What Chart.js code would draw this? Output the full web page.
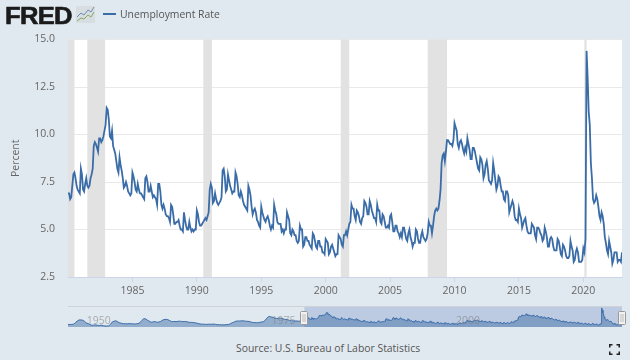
<!DOCTYPE html>
<html>
<head>
    <script src="https://cdn.jsdelivr.net/npm/chart.js@4"></script>
    <style>
        body {
            margin: 0;
            width: 630px;
            height: 360px;
            overflow: hidden;
            background-color: #e1e9f0;
            font-family: "Open Sans", sans-serif;
            position: relative;
        }

        canvas {
            position: absolute;
            left: 0;
        }

        #mainChart { top: 0; }
        #navChart { top: 300px; }

        #logo {
            position: absolute;
            left: 5px;
            top: 0;
            font: 900 23px/32px "Liberation Sans", sans-serif;
            letter-spacing: -0.6px;
            color: #1b1b1b;
            -webkit-text-stroke: 0.6px #1b1b1b;
            transform: scaleX(1.11);
            transform-origin: left center;
        }

        #logoIcon {
            position: absolute;
            left: 76px;
            top: 6px;
        }

        #legendLine {
            position: absolute;
            left: 103px;
            top: 13px;
            width: 13px;
            height: 2px;
            background: #3a6ca8;
        }

        #legendText {
            position: absolute;
            left: 120px;
            top: 6px;
            font-size: 10.4px;
            line-height: 17px;
            color: #555;
        }

        #source {
            position: absolute;
            left: 236px;
            top: 340px;
            font-size: 10.4px;
            line-height: 16px;
            color: #555;
        }

        #expand {
            position: absolute;
            left: 609px;
            top: 344px;
        }
    </style>
</head>
<body>
<canvas id="mainChart" width="630" height="300"></canvas>
<canvas id="navChart" width="630" height="30"></canvas>

<div id="logo">FRED</div>
<svg id="logoIcon" width="19" height="17">
    <rect width="19" height="17" rx="1" fill="#d8dde0"/>
    <polyline points="1,11 5,7 8,9 12,4 15,6 18,1" fill="none" stroke="#6d8fb5" stroke-width="1"/>
    <polyline points="1,15 5,12 8,13 12,9 15,11 18,6" fill="none" stroke="#8aa866" stroke-width="1"/>
</svg>
<div id="legendLine"></div>
<div id="legendText">Unemployment Rate</div>
<div id="source">Source: U.S. Bureau of Labor Statistics</div>
<svg id="expand" width="11" height="11">
    <path d="M0.75 3.5V0.75H3.5M7.5 0.75H10.25V3.5M10.25 7.5V10.25H7.5M3.5 10.25H0.75V7.5" fill="none" stroke="#222" stroke-width="1.5"/>
</svg>

<script>
    // monthly rate, not seasonally adjusted, from Jan 1980
    const rate1980s = [
        6.9, 6.9, 6.6, 6.7, 7.3, 7.9, 8.0, 7.7, 7.3, 7.1, 7.0, 6.9,
        8.2, 7.9, 7.1, 7.0, 7.4, 7.7, 7.3, 7.2, 7.3, 7.7, 7.9, 8.2,
        9.4, 9.6, 9.5, 9.3, 9.1, 9.8, 9.8, 9.6, 9.7, 9.9, 10.2, 10.5,
        11.4, 11.3, 10.8, 9.9, 9.8, 10.2, 9.4, 9.2, 9.0, 8.6, 8.2, 8.0,
        8.8, 8.4, 8.1, 7.7, 7.2, 7.3, 7.5, 7.3, 7.0, 6.9, 6.8, 6.9,
        8.0, 7.8, 7.5, 7.1, 7.0, 7.4, 7.1, 6.9, 6.9, 6.8, 6.7, 6.6,
        7.7, 7.8, 7.5, 7.0, 7.0, 7.3, 7.0, 6.7, 6.8, 6.7, 6.6, 6.3,
        7.4, 7.4, 7.0, 6.3, 6.1, 6.3, 6.1, 5.8, 5.7, 5.7, 5.6, 5.4,
        6.3, 6.2, 5.8, 5.3, 5.3, 5.4, 5.4, 5.5, 5.2, 5.0, 5.0, 4.9,
        5.9, 5.5, 5.2, 5.0, 5.0, 5.4, 5.1, 4.9, 5.0, 4.9, 5.0, 5.0
    ];
    const rate1990s = [
        6.0, 5.8, 5.4, 5.2, 5.2, 5.3, 5.4, 5.5, 5.6, 5.5, 5.7, 5.9,
        7.1, 7.4, 7.2, 6.4, 6.5, 6.9, 6.6, 6.4, 6.3, 6.4, 6.5, 6.7,
        8.1, 8.2, 7.8, 7.0, 7.1, 7.9, 7.6, 7.3, 7.1, 6.9, 7.0, 7.0,
        8.0, 7.8, 7.4, 6.8, 6.7, 7.0, 6.8, 6.5, 6.3, 6.2, 6.1, 6.0,
        7.3, 7.1, 6.8, 6.2, 5.8, 6.0, 6.1, 5.9, 5.5, 5.4, 5.2, 5.1,
        6.2, 5.9, 5.7, 5.5, 5.4, 5.6, 5.7, 5.5, 5.2, 5.0, 5.2, 5.1,
        6.3, 6.0, 5.8, 5.4, 5.3, 5.3, 5.3, 4.9, 5.0, 4.8, 5.0, 5.0,
        5.9, 5.7, 5.5, 4.8, 4.7, 5.0, 4.9, 4.7, 4.7, 4.4, 4.3, 4.4,
        5.2, 5.0, 5.0, 4.1, 4.2, 4.6, 4.6, 4.4, 4.4, 4.2, 4.1, 4.0,
        4.8, 4.7, 4.4, 4.1, 4.0, 4.4, 4.4, 4.1, 4.1, 3.8, 3.8, 3.7
    ];
    const rate2000s = [
        4.5, 4.4, 4.3, 3.7, 3.8, 4.1, 4.2, 4.0, 3.8, 3.6, 3.7, 3.7,
        4.7, 4.6, 4.5, 4.2, 4.1, 4.7, 4.7, 4.9, 4.7, 5.0, 5.3, 5.4,
        6.3, 6.1, 6.1, 5.7, 5.5, 6.0, 5.9, 5.7, 5.4, 5.3, 5.6, 5.7,
        6.5, 6.4, 6.2, 5.8, 5.8, 6.5, 6.3, 6.0, 5.8, 5.6, 5.6, 5.4,
        6.3, 6.0, 6.0, 5.4, 5.3, 5.8, 5.7, 5.4, 5.1, 5.1, 5.2, 5.1,
        5.7, 5.8, 5.4, 4.9, 4.9, 5.2, 5.2, 4.9, 4.8, 4.6, 4.8, 4.6,
        5.1, 5.1, 4.8, 4.5, 4.4, 4.8, 5.0, 4.6, 4.4, 4.1, 4.3, 4.3,
        5.0, 4.9, 4.5, 4.3, 4.3, 4.7, 4.9, 4.6, 4.5, 4.4, 4.5, 4.8,
        5.4, 5.2, 5.2, 4.8, 5.2, 5.7, 6.0, 6.1, 6.0, 6.1, 6.5, 7.1,
        8.5, 8.9, 9.0, 8.6, 9.1, 9.7, 9.7, 9.6, 9.5, 9.5, 9.4, 9.7
    ];
    const rate2010s = [
        10.6, 10.4, 10.2, 9.5, 9.3, 9.6, 9.7, 9.5, 9.2, 9.0, 9.3, 9.1,
        9.8, 9.5, 9.2, 8.7, 8.7, 9.3, 9.3, 9.1, 8.8, 8.5, 8.2, 8.1,
        8.8, 8.7, 8.4, 7.7, 7.9, 8.4, 8.6, 8.2, 7.6, 7.5, 7.4, 7.6,
        8.5, 8.1, 7.6, 7.1, 7.3, 7.8, 7.7, 7.3, 7.0, 7.0, 6.6, 6.5,
        7.0, 7.0, 6.8, 5.9, 6.1, 6.3, 6.5, 6.3, 5.7, 5.5, 5.5, 5.4,
        6.1, 5.8, 5.6, 5.1, 5.3, 5.5, 5.6, 5.2, 4.9, 4.8, 4.8, 4.8,
        5.3, 5.2, 5.1, 4.7, 4.5, 5.1, 5.1, 5.0, 4.8, 4.7, 4.4, 4.5,
        5.1, 4.9, 4.6, 4.1, 4.1, 4.5, 4.6, 4.5, 4.1, 3.9, 3.9, 3.9,
        4.5, 4.4, 4.1, 3.7, 3.6, 4.2, 4.1, 3.9, 3.6, 3.5, 3.5, 3.6,
        4.4, 4.1, 3.9, 3.3, 3.4, 3.8, 4.0, 3.8, 3.3, 3.3, 3.3, 3.4
    ];
    const rate2020s = [
        4.0, 3.8, 4.5, 14.4, 13.0, 11.2, 10.5, 8.5, 7.7, 6.6, 6.4, 6.5,
        6.8, 6.6, 6.2, 5.7, 5.5, 5.9, 5.7, 5.3, 4.6, 4.3, 3.9, 3.7,
        4.4, 4.1, 3.8, 3.2, 3.4, 3.8, 3.8, 3.8, 3.3, 3.4, 3.4, 3.3,
        3.8
    ];
    // quarterly rate 1948-1979, only used by the navigator
    const rateEarly = [
        3.7, 3.6, 3.7, 3.8, 4.7, 5.9, 6.6, 6.6, 6.4, 5.6, 4.6, 4.2,
        3.5, 3.1, 3.2, 3.4, 3.1, 3.0, 3.2, 2.8, 2.7, 2.6, 2.7, 3.7,
        5.3, 5.8, 6.0, 5.3, 4.7, 4.4, 4.1, 4.2, 4.0, 4.2, 4.1, 4.1,
        3.9, 4.1, 4.2, 4.9, 6.3, 7.4, 7.3, 6.4, 5.8, 5.1, 5.3, 5.6,
        5.1, 5.2, 5.5, 6.3, 6.8, 7.0, 6.8, 6.2, 5.6, 5.5, 5.6, 5.5,
        5.8, 5.7, 5.5, 5.6, 5.5, 5.2, 5.0, 5.0, 4.9, 4.7, 4.4, 4.1,
        3.9, 3.8, 3.8, 3.7, 3.8, 3.8, 3.8, 3.9, 3.7, 3.5, 3.5, 3.4,
        3.4, 3.4, 3.6, 3.6, 4.2, 4.8, 5.2, 5.8, 5.9, 5.9, 6.0, 6.0,
        5.8, 5.7, 5.6, 5.3, 4.9, 4.9, 4.8, 4.8, 5.1, 5.2, 5.6, 6.6,
        8.2, 8.9, 8.5, 8.3, 7.7, 7.6, 7.7, 7.8, 7.5, 7.1, 6.9, 6.7,
        6.3, 6.0, 6.0, 5.9, 5.9, 5.7, 6.0, 6.0
    ];

    const recessionStart = [1980.0, 1981.5, 1990.5, 2001.17, 2007.92, 2020.08];
    const recessionEnd = [1980.5, 1982.88, 1991.17, 2001.83, 2009.42, 2020.25];
    const yTicks = [2.5, 5, 7.5, 10, 12.5, 15];
    const xTicks = [1985, 1990, 1995, 2000, 2005, 2010, 2015, 2020];
    const navLabels = [1950, 1975, 2000];
    const selectedRange = [1980, 2023];

    const monthly = rate1980s.concat(rate1990s, rate2000s, rate2010s, rate2020s);
    const mainPoints = monthly.map((v, i) => ({x: 1980 + i / 12, y: v}));
    const navPoints = rateEarly.map((v, i) => ({x: 1948 + i / 4, y: v})).concat(mainPoints);

    const lineColor = '#3a6ca8';
    const labelFont = {family: '"Open Sans"', size: 10.5};

    const bandsPlugin = {
        id: 'bands',
        beforeDraw(chart) {
            const a = chart.chartArea;
            chart.ctx.fillStyle = '#fff';
            chart.ctx.fillRect(a.left, a.top, a.right - a.left, a.bottom - a.top);
        },
        beforeDatasetsDraw(chart) {
            const a = chart.chartArea;
            const x = chart.scales.x;
            chart.ctx.fillStyle = '#e2e2e2';
            recessionStart.forEach((s, i) => {
                const x0 = x.getPixelForValue(s);
                const x1 = x.getPixelForValue(recessionEnd[i]);
                chart.ctx.fillRect(x0, a.top, Math.max(x1 - x0, 2), a.bottom - a.top);
            });
        }
    };

    new Chart(document.getElementById('mainChart'), {
        type: 'line',
        data: {
            datasets: [{
                label: 'Unemployment Rate',
                data: mainPoints,
                borderColor: lineColor,
                borderWidth: 1.8,
                pointRadius: 0,
                tension: 0,
                fill: false
            }]
        },
        options: {
            responsive: false,
            animation: false,
            devicePixelRatio: 1,
            layout: {padding: {top: 39.5, right: 8, left: 0, bottom: 0}},
            plugins: {legend: {display: false}, tooltip: {enabled: false}},
            scales: {
                x: {
                    type: 'linear',
                    min: selectedRange[0],
                    max: selectedRange[1],
                    afterFit: s => { s.height = 23; },
                    afterBuildTicks: s => { s.ticks = xTicks.map(v => ({value: v})); },
                    grid: {drawOnChartArea: false, tickLength: 5, tickColor: '#ccd6eb'},
                    border: {color: '#ccd6eb'},
                    ticks: {
                        color: '#666',
                        font: labelFont,
                        padding: 3,
                        maxRotation: 0,
                        autoSkip: false,
                        callback: v => String(v)
                    }
                },
                y: {
                    min: 2.5,
                    max: 15,
                    afterFit: s => { s.width = 68; },
                    afterBuildTicks: s => { s.ticks = yTicks.map(v => ({value: v})); },
                    grid: {color: '#e9e9e9', drawTicks: false},
                    border: {display: false},
                    ticks: {
                        color: '#666',
                        font: labelFont,
                        padding: 13,
                        callback: v => v.toFixed(1)
                    },
                    title: {
                        display: true,
                        text: 'Percent',
                        color: '#666',
                        font: labelFont,
                        padding: {top: 10, bottom: 0}
                    }
                }
            }
        },
        plugins: [bandsPlugin]
    });

    const navPlugin = {
        id: 'navigator',
        beforeDatasetsDraw(chart) {
            const ctx = chart.ctx;
            const a = chart.chartArea;
            const x = chart.scales.x;
            const x0 = x.getPixelForValue(selectedRange[0]);
            const x1 = x.getPixelForValue(selectedRange[1]);
            ctx.fillStyle = 'rgba(102,133,194,0.3)';
            ctx.fillRect(x0, a.top, x1 - x0, a.bottom - a.top);
        },
        afterDatasetsDraw(chart) {
            const ctx = chart.ctx;
            const a = chart.chartArea;
            const x = chart.scales.x;

            ctx.fillStyle = '#cfd3d8';
            ctx.fillRect(a.left, a.top - 1, a.right - a.left, 1);

            ctx.font = '10.5px "Open Sans"';
            ctx.fillStyle = 'rgba(120,120,120,0.55)';
            ctx.textBaseline = 'middle';
            navLabels.forEach(v => ctx.fillText(String(v), x.getPixelForValue(v) + 4, 21));

            selectedRange.forEach(v => {
                const px = Math.round(x.getPixelForValue(v));
                ctx.fillStyle = '#f2f2f2';
                ctx.strokeStyle = '#999';
                ctx.beginPath();
                ctx.roundRect(px - 3.5, 11.5, 7, 13, 1);
                ctx.fill();
                ctx.stroke();
                ctx.fillStyle = '#bbb';
                ctx.fillRect(px - 1.5, 14, 1, 8);
                ctx.fillRect(px + 0.5, 14, 1, 8);
            });
        }
    };

    new Chart(document.getElementById('navChart'), {
        type: 'line',
        data: {
            datasets: [{
                data: navPoints,
                borderColor: lineColor,
                borderWidth: 1,
                backgroundColor: 'rgba(69,114,167,0.5)',
                pointRadius: 0,
                tension: 0,
                fill: 'origin'
            }]
        },
        options: {
            responsive: false,
            animation: false,
            devicePixelRatio: 1,
            layout: {padding: {top: 7, right: 8, left: 68, bottom: 3}},
            plugins: {legend: {display: false}, tooltip: {enabled: false}},
            scales: {
                x: {type: 'linear', min: 1948, max: 2023, display: false},
                y: {min: 2, max: 15, display: false}
            }
        },
        plugins: [navPlugin]
    });
</script>
</body>
</html>
